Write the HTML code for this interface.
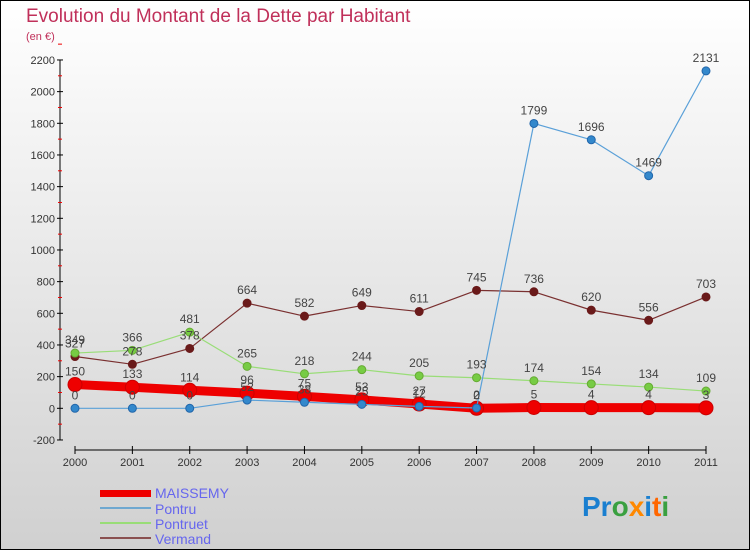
<!DOCTYPE html>
<html><head><meta charset="utf-8"><style>
html,body{margin:0;padding:0;}
body{width:750px;height:550px;overflow:hidden;font-family:"Liberation Sans",sans-serif;}
svg text{font-family:"Liberation Sans",sans-serif;}
</style></head><body>
<svg id="chart" width="750" height="550" xmlns="http://www.w3.org/2000/svg">
<defs><linearGradient id="bg" x1="0" y1="0" x2="0" y2="1"><stop offset="0" stop-color="#ffffff"/><stop offset="1" stop-color="#d0d0d0"/></linearGradient></defs>
<rect x="0.5" y="0.5" width="749" height="549" fill="url(#bg)" stroke="#000" stroke-width="1"/>
<text x="26" y="22" font-size="19" fill="#c0305a">Evolution du Montant de la Dette par Habitant</text>
<text x="26" y="40" font-size="11" fill="#c0305a">(en €)</text>
<g id="axes"></g><g id="series"></g><g id="labels"></g>
<g>
<rect x="100" y="490" width="51" height="7" fill="#ee0000"/>
<text x="155" y="498" font-size="14" fill="#6666ee">MAISSEMY</text>
<line x1="100" y1="508" x2="151" y2="508" stroke="#6fa8d0" stroke-width="2"/>
<text x="155" y="514" font-size="14" fill="#6666ee">Pontru</text>
<line x1="100" y1="523" x2="151" y2="523" stroke="#99dd77" stroke-width="2"/>
<text x="155" y="529" font-size="14" fill="#6666ee">Pontruet</text>
<line x1="100" y1="538" x2="151" y2="538" stroke="#8a5050" stroke-width="2"/>
<text x="155" y="544" font-size="14" fill="#6666ee">Vermand</text>
</g>
<text x="582" y="516" font-size="28" font-weight="bold"><tspan fill="#1a7fd0">Pr</tspan><tspan fill="#3aa040">o</tspan><tspan fill="#ff8800">x</tspan><tspan fill="#1a7fd0">i</tspan><tspan fill="#ff6600">t</tspan><tspan fill="#3aa040">i</tspan></text>
</svg>
<script>
const years=[2000,2001,2002,2003,2004,2005,2006,2007,2008,2009,2010,2011];
const maissemy=[150,133,114,96,75,53,27,0,5,4,4,3];
const pontru=[0,0,0,52,38,25,12,2,1799,1696,1469,2131];
const pontruet=[349,366,481,265,218,244,205,193,174,154,134,109];
const vermand=[327,278,378,664,582,649,611,745,736,620,556,703];
const yTicks=[-200,0,200,400,600,800,1000,1200,1400,1600,1800,2000,2200];
const NS="http://www.w3.org/2000/svg";
function X(i){return 75+i*(706-75)/11;}
function Y(v){return 408.3-v*(380/2400);}
function mk(tag,attrs,parent,txt){const e=document.createElementNS(NS,tag);for(const k in attrs)e.setAttribute(k,attrs[k]);if(txt!==undefined)e.textContent=txt;parent.appendChild(e);return e;}
const axes=document.getElementById('axes'),ser=document.getElementById('series'),lab=document.getElementById('labels');
const ya=mk('line',{x1:60,y1:Y(2200),x2:60,y2:Y(-200),stroke:'#000','stroke-width':1},axes);


yTicks.forEach(t=>{
 mk('line',{x1:57,y1:Y(t),x2:63,y2:Y(t),stroke:'#000'},axes);
 mk('line',{x1:58,y1:Y(t+100),x2:62,y2:Y(t+100),stroke:'#e00'},axes);
 const tl=mk('text',{x:55,y:Y(t)+4,'font-size':11,fill:'#333','text-anchor':'end'},axes,t);
 
 
});
const xa=mk('line',{x1:75,y1:450,x2:706,y2:450,stroke:'#000'},axes);


years.forEach((y,i)=>{
 mk('line',{x1:X(i),y1:446,x2:X(i),y2:454,stroke:'#000'},axes);
 const tl=mk('text',{x:X(i),y:466,'font-size':11,fill:'#333','text-anchor':'middle'},axes,y);
 
 
});
function draw(data,name,color,dot,w,r,stroke){
 const g=mk('g',{},ser);
 
 
 mk('polyline',{points:data.map((v,i)=>X(i)+','+Y(v)).join(' '),fill:'none',stroke:color,'stroke-width':w,'stroke-linejoin':'round'},g);
 data.forEach((v,i)=>{
  const c=mk('circle',{cx:X(i),cy:Y(v),r:r,fill:dot,stroke:stroke,'stroke-width':1},g);
  
  
  mk('text',{x:X(i),y:Y(v)-9,'font-size':12,fill:'#444','text-anchor':'middle'},lab,v);
 });
}
draw(vermand,'vermand','#7a3030','#6a1a1a',1.2,4,'#6a1a1a');
draw(pontruet,'pontruet','#99dd77','#77cc44',1.2,4,'#66aa33');
draw(maissemy,'maissemy','#ee0000','#ee0000',9,7,'#cc0000');
draw(pontru,'pontru','#5aa0d8','#3388cc',1.2,4,'#2266aa');
</script>
</body></html>
